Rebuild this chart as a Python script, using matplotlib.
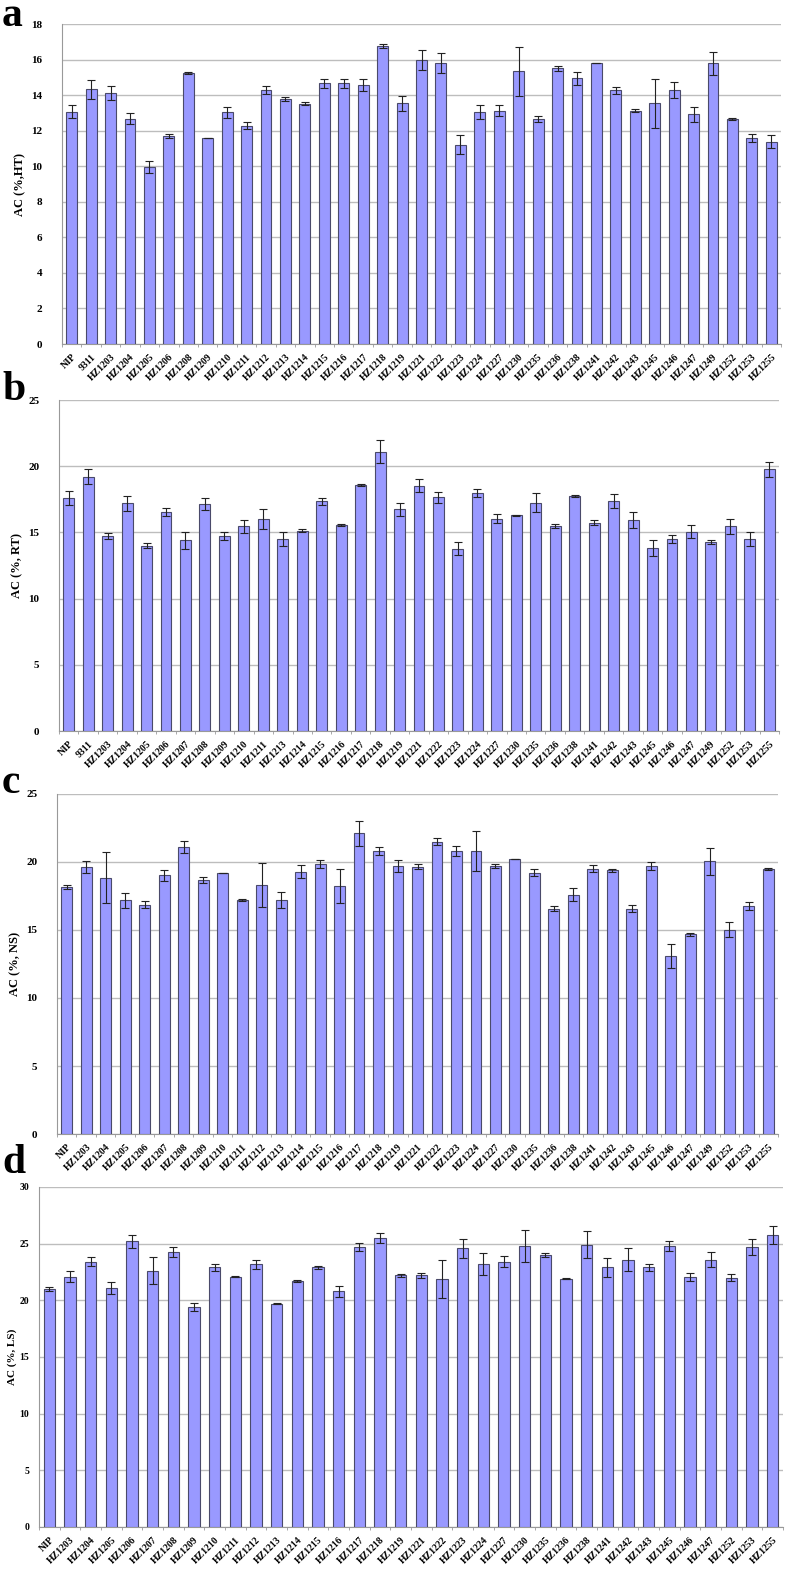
import numpy as np
import matplotlib.pyplot as plt

# --- data ---
lab_a = ['NIP', '9311', 'HZ1203', 'HZ1204', 'HZ1205', 'HZ1206', 'HZ1208', 'HZ1209', 'HZ1210',
         'HZ1211', 'HZ1212', 'HZ1213', 'HZ1214', 'HZ1215', 'HZ1216', 'HZ1217', 'HZ1218', 'HZ1219',
         'HZ1221', 'HZ1222', 'HZ1223', 'HZ1224', 'HZ1227', 'HZ1230', 'HZ1235', 'HZ1236', 'HZ1238',
         'HZ1241', 'HZ1242', 'HZ1243', 'HZ1245', 'HZ1246', 'HZ1247', 'HZ1249', 'HZ1252', 'HZ1253',
         'HZ1255']
val_a = [13.07, 14.32, 14.10, 12.68, 9.95, 11.69, 15.25, 11.58, 13.03, 12.27, 14.30, 13.78, 13.52,
         14.66, 14.66, 14.56, 16.76, 13.54, 16.00, 15.81, 11.22, 13.03, 13.13, 15.33, 12.66, 15.51,
         14.94, 15.78, 14.28, 13.13, 13.54, 14.28, 12.92, 15.78, 12.66, 11.58, 11.39]
err_a = [0.36, 0.52, 0.40, 0.32, 0.32, 0.10, 0.07, 0.0, 0.30, 0.20, 0.24, 0.09, 0.09, 0.26, 0.26,
         0.35, 0.10, 0.41, 0.56, 0.56, 0.54, 0.39, 0.30, 1.40, 0.19, 0.15, 0.35, 0.0, 0.20, 0.07,
         1.38, 0.47, 0.41, 0.63, 0.06, 0.22, 0.34]

lab_b = ['NIP', '9311', 'HZ1203', 'HZ1204', 'HZ1205', 'HZ1206', 'HZ1207', 'HZ1208', 'HZ1209',
         'HZ1210', 'HZ1211', 'HZ1213', 'HZ1214', 'HZ1215', 'HZ1216', 'HZ1217', 'HZ1218', 'HZ1219',
         'HZ1221', 'HZ1222', 'HZ1223', 'HZ1224', 'HZ1227', 'HZ1230', 'HZ1235', 'HZ1236', 'HZ1238',
         'HZ1241', 'HZ1242', 'HZ1243', 'HZ1245', 'HZ1246', 'HZ1247', 'HZ1249', 'HZ1252', 'HZ1253',
         'HZ1255']
val_b = [17.60, 19.22, 14.75, 17.20, 14.00, 16.54, 14.40, 17.15, 14.72, 15.45, 16.00, 14.50, 15.12,
         17.35, 15.57, 18.60, 21.10, 16.74, 18.54, 17.65, 13.78, 17.98, 16.04, 16.29, 17.25, 15.48,
         17.75, 15.73, 17.37, 15.96, 13.82, 14.50, 15.05, 14.27, 15.45, 14.50, 19.77]
err_b = [0.50, 0.55, 0.22, 0.56, 0.20, 0.30, 0.62, 0.45, 0.30, 0.52, 0.78, 0.50, 0.10, 0.28, 0.08,
         0.08, 0.88, 0.50, 0.50, 0.40, 0.48, 0.33, 0.33, 0.05, 0.73, 0.18, 0.08, 0.18, 0.53, 0.60,
         0.62, 0.30, 0.48, 0.15, 0.55, 0.50, 0.55]

lab_c = ['NIP', 'HZ1203', 'HZ1204', 'HZ1205', 'HZ1206', 'HZ1207', 'HZ1208', 'HZ1209', 'HZ1210',
         'HZ1211', 'HZ1212', 'HZ1213', 'HZ1214', 'HZ1215', 'HZ1216', 'HZ1217', 'HZ1218', 'HZ1219',
         'HZ1221', 'HZ1222', 'HZ1223', 'HZ1224', 'HZ1227', 'HZ1230', 'HZ1235', 'HZ1236', 'HZ1238',
         'HZ1241', 'HZ1242', 'HZ1243', 'HZ1245', 'HZ1246', 'HZ1247', 'HZ1249', 'HZ1252', 'HZ1253',
         'HZ1255']
val_c = [18.16, 19.63, 18.85, 17.18, 16.86, 19.02, 21.08, 18.70, 19.17, 17.21, 18.31, 17.23, 19.29,
         19.83, 18.26, 22.10, 20.80, 19.68, 19.66, 21.50, 20.80, 20.80, 19.70, 20.20, 19.22, 16.57,
         17.60, 19.51, 19.39, 16.57, 19.70, 13.10, 14.68, 20.05, 15.02, 16.76, 19.46]
err_c = [0.15, 0.42, 1.90, 0.54, 0.27, 0.39, 0.44, 0.22, 0.0, 0.05, 1.64, 0.59, 0.49, 0.29, 1.25,
         0.93, 0.32, 0.44, 0.17, 0.27, 0.37, 1.47, 0.15, 0.0, 0.27, 0.17, 0.47, 0.25, 0.12, 0.25,
         0.29, 0.90, 0.10, 0.98, 0.56, 0.27, 0.07]

lab_d = ['NIP', 'HZ1203', 'HZ1204', 'HZ1205', 'HZ1206', 'HZ1207', 'HZ1208', 'HZ1209', 'HZ1210',
         'HZ1211', 'HZ1212', 'HZ1213', 'HZ1214', 'HZ1215', 'HZ1216', 'HZ1217', 'HZ1218', 'HZ1219',
         'HZ1221', 'HZ1222', 'HZ1223', 'HZ1224', 'HZ1227', 'HZ1230', 'HZ1235', 'HZ1236', 'HZ1238',
         'HZ1241', 'HZ1242', 'HZ1243', 'HZ1245', 'HZ1246', 'HZ1247', 'HZ1252', 'HZ1253', 'HZ1255']
val_d = [21.0, 22.1, 23.4, 21.1, 25.2, 22.6, 24.3, 19.4, 22.9, 22.1, 23.2, 19.7, 21.7, 22.9, 20.8,
         24.7, 25.5, 22.2, 22.2, 21.9, 24.6, 23.2, 23.4, 24.8, 24.0, 21.9, 24.9, 22.9, 23.6, 22.9,
         24.8, 22.1, 23.6, 22.0, 24.7, 25.8]
err_d = [0.15, 0.45, 0.40, 0.50, 0.55, 1.20, 0.45, 0.35, 0.30, 0.05, 0.40, 0.05, 0.10, 0.15, 0.50,
         0.35, 0.40, 0.10, 0.20, 1.70, 0.85, 1.00, 0.50, 1.40, 0.15, 0.05, 1.20, 0.80, 1.00, 0.30,
         0.45, 0.35, 0.65, 0.30, 0.70, 0.80]

W, H = 787, 1575
fig = plt.figure(figsize=(W / 100, H / 100), dpi=100)
plt.rcParams['font.family'] = ['Liberation Serif', 'DejaVu Serif']
plt.rcParams['font.weight'] = 'bold'

# panel: letter, labels, values, errors, ylabel, ymax, step,
# box in pixels (left, right, top, bottom), letter centre y, ytick size/pad, ylabel size/pad
panels = [
    ('a', lab_a, val_a, err_a, 'AC (%,HT)', 18, 2, (62, 781, 24, 344), 16, 8, 14, 9, 4),
    ('b', lab_b, val_b, err_b, 'AC (%, RT)', 25, 5, (59, 779, 400, 731), 390, 8, 14, 9, 4),
    ('c', lab_c, val_c, err_c, 'AC (%, NS)', 25, 5, (57, 778, 794, 1134), 783, 8, 14, 9, 4),
    ('d', lab_d, val_d, err_d, 'AC (%, LS)', 30, 5, (39, 783, 1187, 1527), 1163, 7, 7, 8, 2),
]

for letter, labs, vals, errs, ylab, ymax, step, box, ly, tsz, tpad, lsz, lpad in panels:
    l, r, t, b = box
    ax = fig.add_axes([l / W, 1 - b / H, (r - l) / W, (b - t) / H])
    x = np.arange(len(labs))
    ax.bar(x, vals, width=0.56, color='#9999ff', edgecolor='#4a4a6a', linewidth=0.8, zorder=3)
    ax.errorbar(x, vals, yerr=errs, fmt='none', ecolor='#222222', elinewidth=0.8,
                capsize=3, capthick=0.8, zorder=4)
    ax.set_xlim(-0.5, len(labs) - 0.5)
    ax.set_ylim(0, ymax)
    ax.set_yticks(np.arange(0, ymax + 1, step))
    ax.yaxis.grid(True, color='#bdbdbd', linewidth=1.0, zorder=0)
    ax.set_xticks(x)
    ax.set_xticklabels(labs, rotation=45, ha='right', rotation_mode='anchor',
                       fontsize=7, fontweight='bold')
    ax.set_xticks(np.arange(-0.5, len(labs), 1), minor=True)
    ax.tick_params(axis='x', which='major', length=0, pad=6)
    ax.tick_params(axis='x', which='minor', length=2, color='#999999')
    ax.tick_params(axis='y', length=0, labelsize=tsz, pad=tpad)
    for lbl in ax.get_yticklabels():
        lbl.set_fontweight('bold')
    ax.set_ylabel(ylab, fontsize=lsz, fontweight='bold', labelpad=lpad)
    for s in ['top', 'right']:
        ax.spines[s].set_visible(False)
    ax.spines['left'].set_color('#999999')
    ax.spines['bottom'].set_color('#999999')
    fig.text(2 / W, 1 - ly / H, letter, fontsize=30, fontweight='bold', va='center', ha='left')

fig.savefig('out.png', dpi=100)
